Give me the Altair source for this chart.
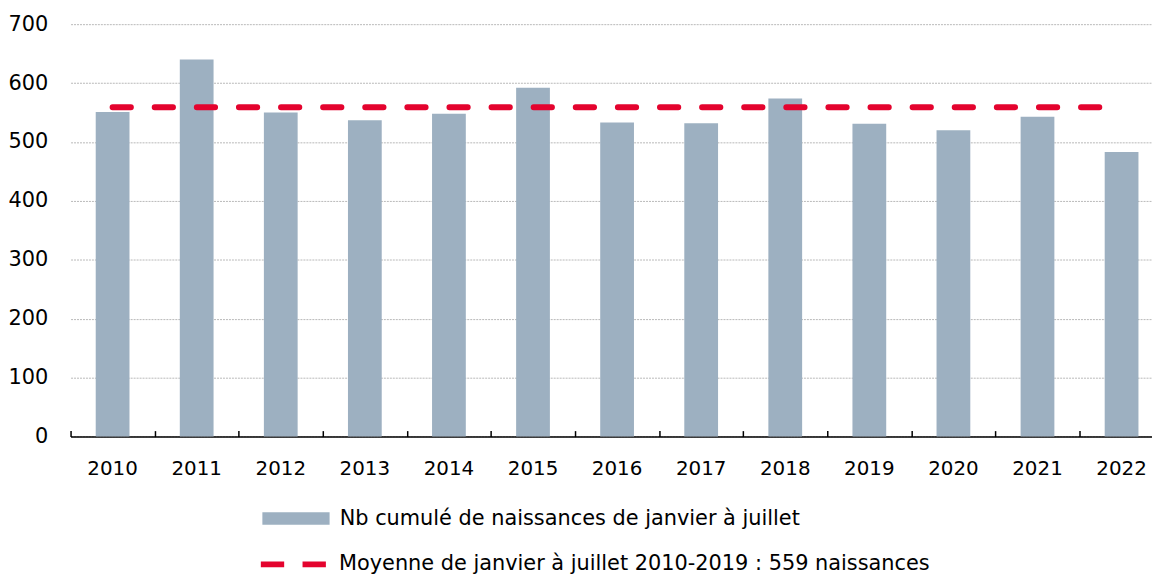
import altair as alt
import pandas as pd

years = ["2010", "2011", "2012", "2013", "2014", "2015", "2016",
         "2017", "2018", "2019", "2020", "2021", "2022"]
births = [551, 640, 550, 537, 548, 592, 533, 532, 574, 531, 520, 543, 483]
mean_line = [559, 559, 559, 559, 559, 559, 559, 559, 559, 559, 559, 559, 559]
y_ticks = [0, 100, 200, 300, 400, 500, 600, 700]

bar_label = "Nb cumulé de naissances de janvier à juillet"
line_label = "Moyenne de janvier à juillet 2010-2019 : 559 naissances"

FONT = "DejaVu Sans"
BAR = "#9DB0C1"
RED = "#E4032E"
PLOT_H = 415.3
PLOT_W = 1100.7

df = pd.DataFrame({
    "year": years,
    "births": births,
    "mean": mean_line,
    "s_bar": [bar_label] * len(years),
    "s_line": [line_label] * len(years),
})

x_scale = alt.Scale(domain=years, paddingInner=0, paddingOuter=0)
y_scale = alt.Scale(domain=[0, 700], nice=False)

y_axis = alt.Axis(
    title=None, values=y_ticks, labelFont=FONT, labelFontSize=21, labelColor="#000",
    labelFontWeight="normal", labelPadding=23, ticks=False, tickSize=0, domain=False,
    grid=True, gridColor="#b8b8b8", gridWidth=1, gridDash=[2, 1],
)

bars = alt.Chart(df).mark_bar(size=34).encode(
    x=alt.X("year:N", scale=x_scale, axis=alt.Axis(
        orient="bottom", title=None, labelAngle=0, labelFont=FONT, labelFontSize=20,
        labelFontWeight="normal", labelColor="#000", labelPadding=22.6, ticks=False,
        tickSize=0, domain=True, domainColor="#000", domainWidth=1.5, grid=False)),
    y=alt.Y("births:Q", scale=y_scale, axis=y_axis),
    fill=alt.Fill("s_bar:N", scale=alt.Scale(range=[BAR]), legend=alt.Legend(
        title=None, orient="none", legendX=193, legendY=463.85,
        symbolType="M-1,-0.1875H1V0.1875H-1Z", symbolSize=4583, symbolStrokeWidth=0,
        labelFont=FONT, labelFontSize=21, labelColor="#000", labelOffset=10,
        labelLimit=0, padding=0)),
)

line = alt.Chart(df).mark_line(strokeWidth=6, strokeCap="round", strokeDash=[18.4, 24]).encode(
    x=alt.X("year:N", scale=x_scale, axis=alt.Axis(
        orient="top", offset=-PLOT_H, title=None, labels=False, domain=False,
        ticks=True, tickSize=6, tickColor="#000", tickWidth=1.5, tickBand="extent",
        grid=False)),
    y=alt.Y("mean:Q", scale=y_scale, axis=y_axis),
    stroke=alt.Stroke("s_line:N", scale=alt.Scale(range=[RED]), legend=alt.Legend(
        title=None, orient="none", legendX=188.3, legendY=507.5,
        symbolType="stroke", symbolSize=4409, symbolStrokeWidth=6,
        symbolDash=[23.5, 18.5], labelFont=FONT, labelFontSize=21, labelColor="#000",
        labelOffset=9, labelLimit=0, padding=0)),
)

chart = alt.layer(bars, line).resolve_axis(x="independent").properties(
    width=PLOT_W, height=PLOT_H,
    padding={"left": 63, "top": 14.3, "right": -11.7, "bottom": 137.4},
    autosize=alt.AutoSizeParams(type="none"),
).configure_view(stroke=None)

chart.save("out.html", embed_options={"renderer": "svg", "actions": False})
